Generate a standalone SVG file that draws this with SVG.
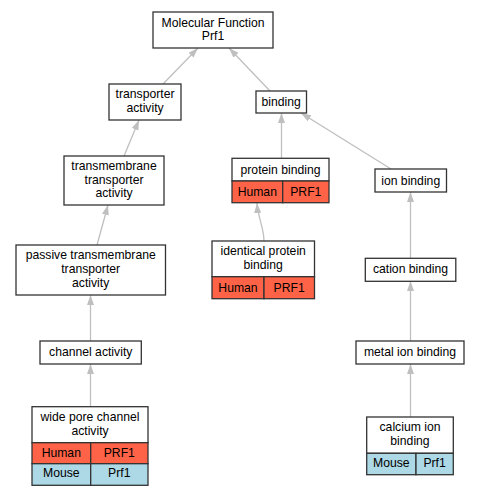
<svg xmlns="http://www.w3.org/2000/svg" width="480" height="496" viewBox="0 0 480 496">
<style>
.box{fill:#fff;stroke:#333;stroke-width:1.3}
.hu{fill:#ff6347;stroke:#333;stroke-width:1.3}
.mo{fill:#add8e6;stroke:#333;stroke-width:1.3}
text{font-family:"Liberation Sans",Arial,sans-serif;font-size:12.2px;fill:#000;text-anchor:middle}
.e{fill:none;stroke:#bfbfbf;stroke-width:1.3;marker-end:url(#ah)}
</style>
<defs>
<marker id="ah" markerUnits="userSpaceOnUse" markerWidth="11" markerHeight="8" refX="10" refY="3.5" orient="auto">
<path d="M0,0 L10,3.5 L0,7 z" fill="#bfbfbf"/>
</marker>
</defs>
<g id="edges">
<path class="e" d="M163,84 L198,48"/>
<path class="e" d="M270,91 L229,48"/>
<path class="e" d="M124,156 L139,120"/>
<path class="e" d="M281.5,158 L281.5,113"/>
<path class="e" d="M391,169 L301,113"/>
<path class="e" d="M97,245 L108,205"/>
<path class="e" d="M264,241 C264,228 258,218 257,203"/>
<path class="e" d="M410.5,258 L410.5,192"/>
<path class="e" d="M90.5,341 L90.5,295"/>
<path class="e" d="M410.5,341 L410.5,281"/>
<path class="e" d="M90.5,407 L90.5,364"/>
<path class="e" d="M410.5,417 L410.5,364"/>
</g>
<g id="mf">
<rect class="box" x="153" y="12" width="120" height="36"/>
<text x="213" y="26.6">Molecular Function</text>
<text x="213" y="40.3">Prf1</text>
</g>
<g id="transporter">
<rect class="box" x="109" y="84" width="72" height="36"/>
<text x="145" y="98.3">transporter</text>
<text x="145" y="112">activity</text>
</g>
<g id="binding">
<rect class="box" x="256" y="91" width="50.5" height="22"/>
<text x="281.2" y="106.3">binding</text>
</g>
<g id="transmembrane">
<rect class="box" x="64" y="156" width="100" height="49"/>
<text x="114" y="169.8">transmembrane</text>
<text x="114" y="183.5">transporter</text>
<text x="114" y="197.2">activity</text>
</g>
<g id="protein">
<rect class="box" x="232" y="158.3" width="97" height="22.7"/>
<text x="280.5" y="173.5">protein binding</text>
<rect class="hu" x="232" y="181" width="50.7" height="21.7"/>
<rect class="hu" x="282.7" y="181" width="46.3" height="21.7"/>
<text x="257.3" y="196.3">Human</text>
<text x="305.8" y="196.3">PRF1</text>
</g>
<g id="ion">
<rect class="box" x="375" y="169" width="71.5" height="23"/>
<text x="410.7" y="184.8">ion binding</text>
</g>
<g id="passive">
<rect class="box" x="16" y="245" width="149.5" height="50"/>
<text x="90.7" y="259.2">passive transmembrane</text>
<text x="90.7" y="272.9">transporter</text>
<text x="90.7" y="286.6">activity</text>
</g>
<g id="identical">
<rect class="box" x="212" y="241" width="102.5" height="35.7"/>
<text x="263.2" y="254.9">identical protein</text>
<text x="263.2" y="268.6">binding</text>
<rect class="hu" x="212" y="276.7" width="52" height="22"/>
<rect class="hu" x="264" y="276.7" width="50.5" height="22"/>
<text x="238" y="292.3">Human</text>
<text x="289.2" y="292.3">PRF1</text>
</g>
<g id="cation">
<rect class="box" x="365.3" y="258.3" width="90.5" height="23"/>
<text x="410.5" y="273.3">cation binding</text>
</g>
<g id="channel">
<rect class="box" x="40" y="341" width="101.3" height="23"/>
<text x="90.7" y="355.8">channel activity</text>
</g>
<g id="metal">
<rect class="box" x="356" y="341" width="108" height="23"/>
<text x="410" y="355.8">metal ion binding</text>
</g>
<g id="widepore">
<rect class="box" x="32" y="406.7" width="116" height="36"/>
<text x="90" y="421.2">wide pore channel</text>
<text x="90" y="434.9">activity</text>
<rect class="hu" x="32" y="442.7" width="58.7" height="21"/>
<rect class="hu" x="90.7" y="442.7" width="57.3" height="21"/>
<text x="61.3" y="456.8">Human</text>
<text x="119.3" y="456.8">PRF1</text>
<rect class="mo" x="32" y="463.7" width="58.7" height="21.6"/>
<rect class="mo" x="90.7" y="463.7" width="57.3" height="21.6"/>
<text x="61.3" y="477.3">Mouse</text>
<text x="119.3" y="477.3">Prf1</text>
</g>
<g id="calcium">
<rect class="box" x="366.7" y="417" width="86.6" height="36.3"/>
<text x="410" y="431.4">calcium ion</text>
<text x="410" y="445.1">binding</text>
<rect class="mo" x="366.7" y="453.3" width="49.3" height="21.4"/>
<rect class="mo" x="416" y="453.3" width="37.3" height="21.4"/>
<text x="391.3" y="467.3">Mouse</text>
<text x="434.6" y="467.3">Prf1</text>
</g>
</svg>
